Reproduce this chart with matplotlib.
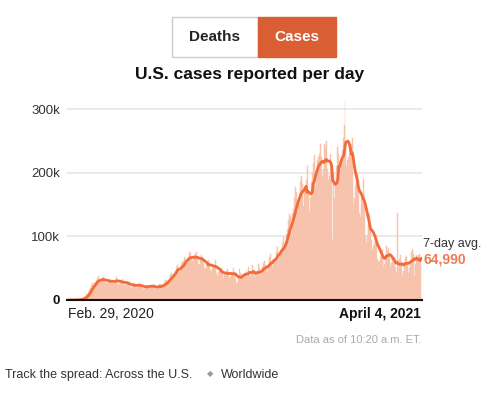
import numpy as np
import pandas as pd
import matplotlib
matplotlib.use('Agg')
import matplotlib.pyplot as plt
from matplotlib.patches import Rectangle

plt.rcParams['font.family'] = ['Liberation Sans', 'DejaVu Sans']

# daily reported cases, thousands (Feb. 29, 2020 - April 4, 2021)
feb_2020 = [0]
mar_2020 = [0.01, 0.02, 0.03, 0.04, 0.06, 0.08, 0.1,
            0.12, 0.2, 0.3, 0.4, 0.5, 0.6, 0.7,
            1.0, 1.5, 2.0, 3.0, 4.5, 5.5, 6.5,
            9, 10, 12, 16, 19, 24, 26,
            22, 25, 26]
apr_2020 = [29, 32, 35, 37,
            27, 29, 31, 32, 34, 36, 32,
            27, 26, 27, 30, 32, 33, 31,
            27, 26, 27, 29, 32, 36, 34,
            27, 24, 25, 28, 30]
may_2020 = [33, 29,
            26, 23, 24, 25, 29, 28, 26,
            20, 19, 22, 21, 27, 27, 25,
            19, 21, 21, 22, 27, 24, 22,
            19, 18, 18, 20, 22, 25, 24,
            20]
jun_2020 = [20, 21, 20, 21, 25, 23,
            18, 17, 19, 21, 22, 25, 25,
            20, 19, 23, 25, 28, 31, 32,
            27, 30, 33, 37, 39, 42, 40,
            40, 41, 46]
jul_2020 = [52, 55, 57, 45,
            44, 46, 58, 60, 62, 68, 66,
            59, 60, 64, 67, 75, 74, 67,
            62, 60, 64, 70, 72, 75, 67,
            57, 55, 62, 68, 70, 68]
aug_2020 = [58,
            50, 48, 55, 56, 58, 63, 58,
            47, 46, 51, 53, 52, 63, 55,
            43, 38, 44, 46, 44, 50, 46,
            36, 35, 40, 43, 45, 48, 44,
            35, 36]
sep_2020 = [42, 38, 44, 51, 43,
            33, 25, 28, 35, 38, 48, 42,
            34, 35, 39, 39, 44, 49, 42,
            36, 52, 40, 38, 44, 55, 46,
            37, 34, 43, 41]
oct_2020 = [45, 56, 50,
            38, 42, 45, 52, 58, 61, 55,
            47, 44, 54, 61, 67, 72, 62,
            52, 60, 64, 66, 75, 85, 84,
            62, 70, 78, 79, 90, 99, 90]
nov_2020 = [82, 92, 104, 112, 125, 135, 132,
            106, 118, 136, 143, 160, 177, 170,
            140, 155, 162, 170, 187, 195, 182,
            148, 172, 178, 188, 120, 210, 170,
            140, 160]
dec_2020 = [185, 200, 215, 228, 212,
            178, 192, 220, 225, 230, 245, 225,
            185, 195, 205, 245, 240, 250, 205,
            188, 195, 200, 230, 200, 95, 200,
            161, 185, 210, 240, 245]
jan_2021 = [230, 195,
            205, 215, 235, 255, 275, 312, 240,
            210, 220, 225, 230, 235, 245, 255,
            172, 150, 160, 180, 196, 200, 188,
            137, 130, 145, 159, 160, 190, 164,
            102]
feb_2021 = [90, 100, 111,
            120, 135, 120, 94,
            78, 85, 90, 98,
            100, 90, 65, 60,
            62, 68, 72, 80,
            68, 52,
            56, 70, 85,
            78, 82, 74,
            52]
mar_2021 = [50, 58, 68,
            66, 68, 52, 42,
            137,
            50, 58, 65, 70, 57,
            40, 45, 55, 68, 70, 67,
            58, 42, 50, 62, 75, 80,
            72, 70, 38, 57, 70,
            65]
apr_2021 = [70, 72, 60, 5]

# days left out of the average (backlog dump, partial day)
excluded = ['2021-03-08', '2021-04-04']

cases = np.array(feb_2020 + mar_2020 + apr_2020 + may_2020 + jun_2020 + jul_2020
                 + aug_2020 + sep_2020 + oct_2020 + nov_2020 + dec_2020
                 + jan_2021 + feb_2021 + mar_2021 + apr_2021) * 1000
dates = pd.date_range('2020-02-29', '2021-04-04')

s = pd.Series(cases, index=dates)
clean = s.copy()
clean[pd.to_datetime(excluded)] = np.nan
avg = clean.rolling(7, min_periods=1).mean()

W, H = 499, 397
fig = plt.figure(figsize=(W / 100, H / 100), dpi=100)


def fx(px):
    return px / W


def fy(py):
    return 1 - py / H


# toggle buttons
fig.add_artist(Rectangle((fx(172), fy(57)), fx(258) - fx(172), 40 / H,
                         transform=fig.transFigure, facecolor='white',
                         edgecolor='#cccccc', lw=1))
fig.add_artist(Rectangle((fx(258), fy(57)), fx(336) - fx(258), 40 / H,
                         transform=fig.transFigure, facecolor='#d95e34',
                         edgecolor='#d95e34', lw=1))
fig.text(fx(215), fy(37), 'Deaths', ha='center', va='center', fontsize=11,
         fontweight='bold', color='#222222')
fig.text(fx(297), fy(37), 'Cases', ha='center', va='center', fontsize=11,
         fontweight='bold', color='white')

fig.text(fx(250), fy(74), 'U.S. cases reported per day', ha='center', va='center',
         fontsize=12.5, fontweight='bold', color='#111111')

ax = fig.add_axes([fx(67), fy(300), fx(421.5) - fx(67), (300 - 95) / H])
ax.bar(dates, cases, width=1.0, color='#f7c3ac', edgecolor='#f7c3ac',
       linewidth=0.3, zorder=2)
ax.plot(dates, avg, color='#f26b3a', lw=2, zorder=3, solid_capstyle='round')

ax.set_xlim(dates[0] - pd.Timedelta(hours=12), dates[-1] + pd.Timedelta(hours=12))
ax.set_ylim(0, 322000)
ax.set_yticks([0, 100000, 200000, 300000])
ax.set_yticklabels(['0', '100k', '200k', '300k'])
ax.set_xticks([])
ax.tick_params(axis='y', length=0, pad=5, labelsize=9.5, labelcolor='#333333')
ax.get_yticklabels()[0].set_fontweight('bold')
ax.get_yticklabels()[0].set_color('#111111')
ax.yaxis.grid(True, color='#e6e6e6', lw=1.2, zorder=0)
ax.set_axisbelow(True)
for side in ['top', 'right', 'left']:
    ax.spines[side].set_visible(False)
ax.spines['bottom'].set_color('#111111')
ax.spines['bottom'].set_linewidth(1.5)
ax.spines['bottom'].set_zorder(4)

fig.text(fx(68), fy(314), 'Feb. 29, 2020', ha='left', va='center', fontsize=10,
         color='#222222')
fig.text(fx(421), fy(314), 'April 4, 2021', ha='right', va='center', fontsize=10,
         fontweight='bold', color='#111111')

fig.text(fx(423), fy(244), '7-day avg.', ha='left', va='center', fontsize=9,
         color='#333333')
fig.text(fx(423), fy(259), '64,990', ha='left', va='center', fontsize=10,
         fontweight='bold', color='#f07a4f')

fig.text(fx(421), fy(340), 'Data as of 10:20 a.m. ET.', ha='right', va='center',
         fontsize=8, color='#aaaaaa')

fig.text(fx(5), fy(375), 'Track the spread: Across the U.S.', ha='left', va='center',
         fontsize=9, color='#333333')
fig.text(fx(210), fy(374), '\u25c6', ha='center', va='center', fontsize=6,
         color='#999999', family=['DejaVu Sans'])
fig.text(fx(221), fy(375), 'Worldwide', ha='left', va='center', fontsize=9,
         color='#333333')

fig.savefig('out.png', dpi=100)
